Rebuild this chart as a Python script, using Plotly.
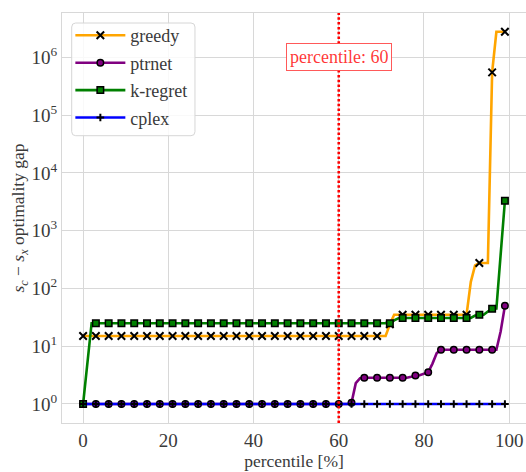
import plotly.graph_objects as go

# Optimality gap at each integer percentile (0..99) of the test instances
percentile = list(range(100))

greedy = [
    15, 15, 15, 15, 15, 15, 15, 15, 15, 15,
    15, 15, 15, 15, 15, 15, 15, 15, 15, 15,
    15, 15, 15, 15, 15, 15, 15, 15, 15, 15,
    15, 15, 15, 15, 15, 15, 15, 15, 15, 15,
    15, 15, 15, 15, 15, 15, 15, 15, 15, 15,
    15, 15, 15, 15, 15, 15, 15, 15, 15, 15,
    15, 15, 15, 15, 15, 15, 15, 15, 15, 15,
    15, 15, 24, 35, 35, 35, 35, 35, 35, 35,
    35, 35, 35, 35, 35, 35, 35, 35, 35, 35,
    35, 130, 250, 276, 276, 276, 5.5e5, 2.77e6, 2.77e6, 2.77e6,
]

ptrnet = [
    1, 1, 1, 1, 1, 1, 1, 1, 1, 1,
    1, 1, 1, 1, 1, 1, 1, 1, 1, 1,
    1, 1, 1, 1, 1, 1, 1, 1, 1, 1,
    1, 1, 1, 1, 1, 1, 1, 1, 1, 1,
    1, 1, 1, 1, 1, 1, 1, 1, 1, 1,
    1, 1, 1, 1, 1, 1, 1, 1, 1, 1,
    1, 1, 1, 1.05, 2.3, 2.8, 2.85, 2.85, 2.85, 2.85,
    2.85, 2.85, 2.85, 2.85, 2.85, 2.85, 2.85, 2.95, 3.1, 3.15,
    3.3, 3.55, 5.0, 7.6, 8.7, 8.7, 8.7, 8.7, 8.7, 8.7,
    8.7, 8.7, 8.7, 8.7, 8.7, 8.7, 8.7, 8.7, 18, 50,
]

k_regret = [
    1, 5, 25, 25, 25, 25, 25, 25, 25, 25,
    25, 25, 25, 25, 25, 25, 25, 25, 25, 25,
    25, 25, 25, 25, 25, 25, 25, 25, 25, 25,
    25, 25, 25, 25, 25, 25, 25, 25, 25, 25,
    25, 25, 25, 25, 25, 25, 25, 25, 25, 25,
    25, 25, 25, 25, 25, 25, 25, 25, 25, 25,
    25, 25, 25, 25, 25, 25, 25, 25, 25, 25,
    25, 25, 25, 28, 30.5, 30.8, 30.8, 30.8, 30.8, 30.8,
    30.8, 30.8, 30.8, 30.8, 30.8, 30.8, 30.8, 30.8, 30.8, 30.8,
    30.8, 31, 34, 35, 35, 40, 44.5, 45, 390, 3300,
]

cplex = [
    1, 1, 1, 1, 1, 1, 1, 1, 1, 1,
    1, 1, 1, 1, 1, 1, 1, 1, 1, 1,
    1, 1, 1, 1, 1, 1, 1, 1, 1, 1,
    1, 1, 1, 1, 1, 1, 1, 1, 1, 1,
    1, 1, 1, 1, 1, 1, 1, 1, 1, 1,
    1, 1, 1, 1, 1, 1, 1, 1, 1, 1,
    1, 1, 1, 1, 1, 1, 1, 1, 1, 1,
    1, 1, 1, 1, 1, 1, 1, 1, 1, 1,
    1, 1, 1, 1, 1, 1, 1, 1, 1, 1,
    1, 1, 1, 1, 1, 1, 1, 1, 1, 1,
]

method_names = ["greedy", "ptrnet", "k-regret", "cplex"]
method_values = [greedy, ptrnet, k_regret, cplex]
line_colors = ["#FFA500", "#800080", "#008000", "#0000FF"]
marker_symbols = ["x-thin", "circle", "square", "cross-thin"]
marker_fills = ["black", "#800080", "#008000", "black"]
marker_sizes = [7.5, 6.5, 6.5, 5.5]
marker_edge_widths = [2, 1.5, 1.5, 2]
mark_every = 3

cutoff = 60
cutoff_label = "percentile: 60"

x_ticks = [0, 20, 40, 60, 80, 100]
y_ticks = [1, 10, 100, 1e3, 1e4, 1e5, 1e6]
y_ticktext = ["10<sup>%d</sup>" % k for k in range(7)]

FONT = "Liberation Serif"
TEXT = "#3a3a3a"
GRID = "#d8d8d8"

fig = go.Figure()

for i, (name, vals, col, sym, fill, ms, mlw) in enumerate(zip(
    method_names, method_values, line_colors, marker_symbols,
    marker_fills, marker_sizes, marker_edge_widths
)):
    marker = dict(symbol=sym, size=ms, color=fill,
                  line=dict(color="black", width=mlw))
    # continuous curve through every percentile
    fig.add_trace(go.Scatter(
        x=percentile, y=vals, mode="lines", showlegend=False,
        line=dict(color=col, width=2.6), hoverinfo="skip",
    ))
    # markers on every third percentile
    fig.add_trace(go.Scatter(
        x=percentile[::mark_every], y=vals[::mark_every], mode="markers",
        showlegend=False, marker=marker, name=name,
    ))
    # legend handle
    fig.add_trace(go.Scatter(
        x=[None], y=[None], mode="lines+markers", name=name,
        legendgroup="g%d" % i,
        line=dict(color=col, width=2.6), marker=marker,
    ))


def rounded_box(x0, y0, x1, y1, rpx, wpx=464.0, hpx=410.0):
    """SVG path of a rectangle with rounded corners, in paper units."""
    rx, ry = rpx / wpx, rpx / hpx
    return (
        f"M {x0 + rx},{y1} L {x1 - rx},{y1} Q {x1},{y1} {x1},{y1 - ry} "
        f"L {x1},{y0 + ry} Q {x1},{y0} {x1 - rx},{y0} "
        f"L {x0 + rx},{y0} Q {x0},{y0} {x0},{y0 + ry} "
        f"L {x0},{y1 - ry} Q {x0},{y1} {x0 + rx},{y1} Z"
    )


# legend frame (rounded, semi-opaque)
fig.add_shape(
    type="path", xref="paper", yref="paper",
    path=rounded_box(0.0209, 0.7007, 0.2866, 0.9756, 4),
    fillcolor="rgba(255,255,255,0.85)", line=dict(color="#d6d6d6", width=1),
    layer="above",
)

# cut-off percentile marker
fig.add_shape(
    type="line", xref="x", yref="paper", x0=cutoff, x1=cutoff, y0=0, y1=1,
    line=dict(color="red", width=2.6, dash="2.5px,2.3px"), layer="above",
)
fig.add_annotation(
    x=cutoff, y=6, xref="x", yref="y", text=cutoff_label, showarrow=False,
    font=dict(family=FONT, size=18, color="rgba(255,0,0,0.8)"),
    bgcolor="white", bordercolor="rgba(255,60,60,0.85)", borderwidth=1,
    borderpad=3,
)

axis_common = dict(
    showgrid=True, gridcolor=GRID, gridwidth=1, zeroline=False,
    showline=True, linecolor=GRID, linewidth=1, mirror=True, ticks="",
    tickfont=dict(family=FONT, size=19, color=TEXT),
)

fig.update_layout(
    width=526, height=472,
    margin=dict(l=62, r=0, t=13, b=49),
    plot_bgcolor="white", paper_bgcolor="white",
    font=dict(family=FONT, size=17, color=TEXT),
    xaxis=dict(
        range=[-4.95, 103.95], tickvals=x_ticks,
        title=dict(text="percentile [%]", font=dict(family=FONT, size=17.5, color=TEXT), standoff=4),
        **axis_common,
    ),
    yaxis=dict(
        type="log", range=[-0.329, 6.768], tickvals=y_ticks, ticktext=y_ticktext,
        title=dict(text="<i>s</i><sub><i>c</i></sub> − <i>s</i><sub><i>x</i></sub> optimality gap",
                   font=dict(family=FONT, size=17.5, color=TEXT), standoff=2),
        **axis_common,
    ),
    legend=dict(
        x=0.018, y=0.99, xanchor="left", yanchor="top",
        bgcolor="rgba(0,0,0,0)", borderwidth=0,
        font=dict(family=FONT, size=18, color=TEXT),
        itemwidth=50, tracegroupgap=1, traceorder="grouped",
    ),
)

fig.write_html("out.html")
